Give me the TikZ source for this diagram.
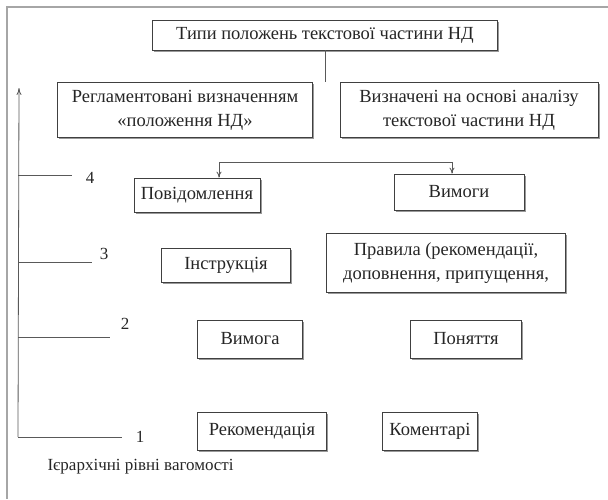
\documentclass[tikz,border=0pt]{standalone}
\usepackage{fontspec}
\setmainfont{Liberation Serif}
\usetikzlibrary{shadows,arrows.meta}

\tikzset{
    levelbox/.style={draw=black!75, fill=white, line width=.7pt, align=center, inner sep=0pt,
        drop shadow={shadow xshift=1.5pt, shadow yshift=-1.5pt, fill=black!50, opacity=.8}},
    levelline/.style={draw=black!65, line width=.8pt},
    levelnum/.style={font=\fontsize{17}{19}\selectfont}
}

\begin{document}
\begin{tikzpicture}[x=1pt, y=-1pt, font=\fontsize{18.5}{24}\selectfont, text=black!85]
        \useasboundingbox (0,0) rectangle (608,499);
        % frame
        \draw[black!35, line width=1.2pt] (608,7) -- (7,7) -- (7,499);

        % types of provisions
        \node[levelbox, minimum width=345, minimum height=30] (types) at (325,35) {Типи положень текстової частини НД};
        \node[levelbox, minimum width=255, minimum height=55] (regl) at (185,110) {Регламентовані визначенням\\«положення НД»};
        \node[levelbox, minimum width=258, minimum height=55] (anal) at (469,110) {Визначені на основі аналізу\\текстової частини НД};
        \draw[levelline] (types.south) -- (types.south |- regl.north);

        % level 4
        \node[levelbox, minimum width=126, minimum height=34] (povid) at (197,195) {Повідомлення};
        \node[levelbox, minimum width=130, minimum height=36] (vymogy) at (459,192) {Вимоги};
        \draw[levelline, {To[length=6pt,width=5pt]}-{To[length=6pt,width=5pt]}]
            ([xshift=22]povid.north) -- ++(0,-15) -| ([xshift=-7]vymogy.north);

        % level 3
        \node[levelbox, minimum width=129, minimum height=34] (instr) at (226,265) {Інструкція};
        \node[levelbox, minimum width=239, minimum height=59] (pravyla) at (446,263) {Правила (рекомендації,\\доповнення, припущення,};

        % level 2
        \node[levelbox, minimum width=105, minimum height=38] (vymoga) at (250,339) {Вимога};
        \node[levelbox, minimum width=111, minimum height=38] (ponyat) at (466,339) {Поняття};

        % level 1
        \node[levelbox, minimum width=129, minimum height=38] (rekom) at (262,431) {Рекомендація};
        \node[levelbox, minimum width=95, minimum height=38] (koment) at (430,431) {Коментарі};

        % hierarchy axis
        \coordinate (axisbot) at (18,437);
        \coordinate (axistop) at (19,88);
        \draw[levelline, -{To[length=7pt,width=5pt]}] (axisbot) -- (axistop);
        \foreach \lv/\ly/\lx/\nx/\ny in {4/175/72/90/178, 3/262/92/104/254, 2/337/110/125/324, 1/437/122/140/437} {
            \coordinate (lv\lv a) at (18,\ly);
            \coordinate (lv\lv b) at (\lx,\ly);
            \draw[levelline] (lv\lv a) -- (lv\lv b);
            \node[levelnum] (num\lv) at (\nx,\ny) {\lv};
        }

        \node[anchor=west, font=\fontsize{17}{19}\selectfont] (caption) at (44,467) {Ієрархічні рівні вагомості};
    \end{tikzpicture}
\end{document}
